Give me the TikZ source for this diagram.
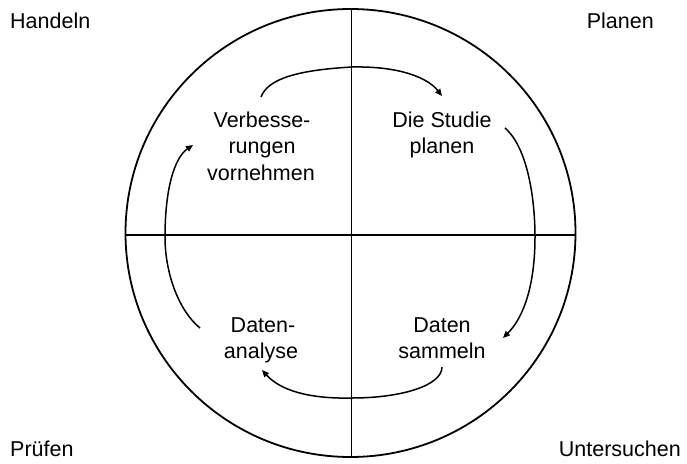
\documentclass[tikz,border=0pt]{standalone}
\usepackage{fontspec}
\setmainfont{Liberation Sans}
\usetikzlibrary{arrows.meta}
\begin{document}
\begin{tikzpicture}[x=1pt,y=-1pt,
  lbl/.style={font=\fontsize{21.5}{25}\selectfont, inner sep=0pt, anchor=base},
  axis/.style={line width=1.6pt},
  cyc/.style={line width=1.5pt, -{Triangle[length=7pt,width=6pt]}}]
\useasboundingbox (0,0) rectangle (687,463);
% circle and axes
\draw[line width=1.8pt] (350.5,233) ellipse [x radius=225, y radius=224];
\coordinate (vt) at (351.5,9);
\coordinate (vb) at (351.5,457);
\coordinate (hl) at (125,235);
\coordinate (hr) at (576,235);
\draw[axis] (vt) -- (vb);
\draw[axis] (hl) -- (hr);
% corner labels
\node[lbl, anchor=base west] (handeln) at (10,28) {Handeln};
\node[lbl, anchor=base east] (planen) at (654,28) {Planen};
\node[lbl, anchor=base west] (pruefen) at (10,456) {Prüfen};
\node[lbl, anchor=base east] (unters) at (681,456) {Untersuchen};
% inner texts
\node[lbl] (v1) at (262,127) {Verbesse-};
\node[lbl] (v2) at (262,153) {rungen};
\node[lbl] (v3) at (261,180) {vornehmen};
\node[lbl] (s1) at (442,127) {Die Studie};
\node[lbl] (s2) at (442,153) {planen};
\node[lbl] (a1) at (263,332) {Daten-};
\node[lbl] (a2) at (261,358) {analyse};
\node[lbl] (d1) at (442,332) {Daten};
\node[lbl] (d2) at (442,358) {sammeln};
% cycle arrow end points
\coordinate (t0) at (261,97);
\coordinate (tm) at (352,67);
\coordinate (t1) at (442,96);
\coordinate (r0) at (505,128);
\coordinate (rm) at (535,237);
\coordinate (r1) at (503,338);
\coordinate (b0) at (442,367);
\coordinate (bm) at (352,398);
\coordinate (b1) at (262,370);
\coordinate (l0) at (200,328);
\coordinate (lm) at (165,237);
\coordinate (l1) at (193,145);
\draw[cyc] (t0) .. controls (268,78) and (300,70) .. (tm) .. controls (400,66) and (428,78) .. (t1);
\draw[cyc] (r0) .. controls (528,148) and (535,200) .. (rm) .. controls (535,282) and (525,316) .. (r1);
\draw[cyc] (b0) .. controls (442,386) and (400,398) .. (bm) .. controls (308,399) and (280,390) .. (b1);
\draw[cyc] (l0) .. controls (178,310) and (165,272) .. (lm) .. controls (165,190) and (174,158) .. (l1);
\end{tikzpicture}
\end{document}
